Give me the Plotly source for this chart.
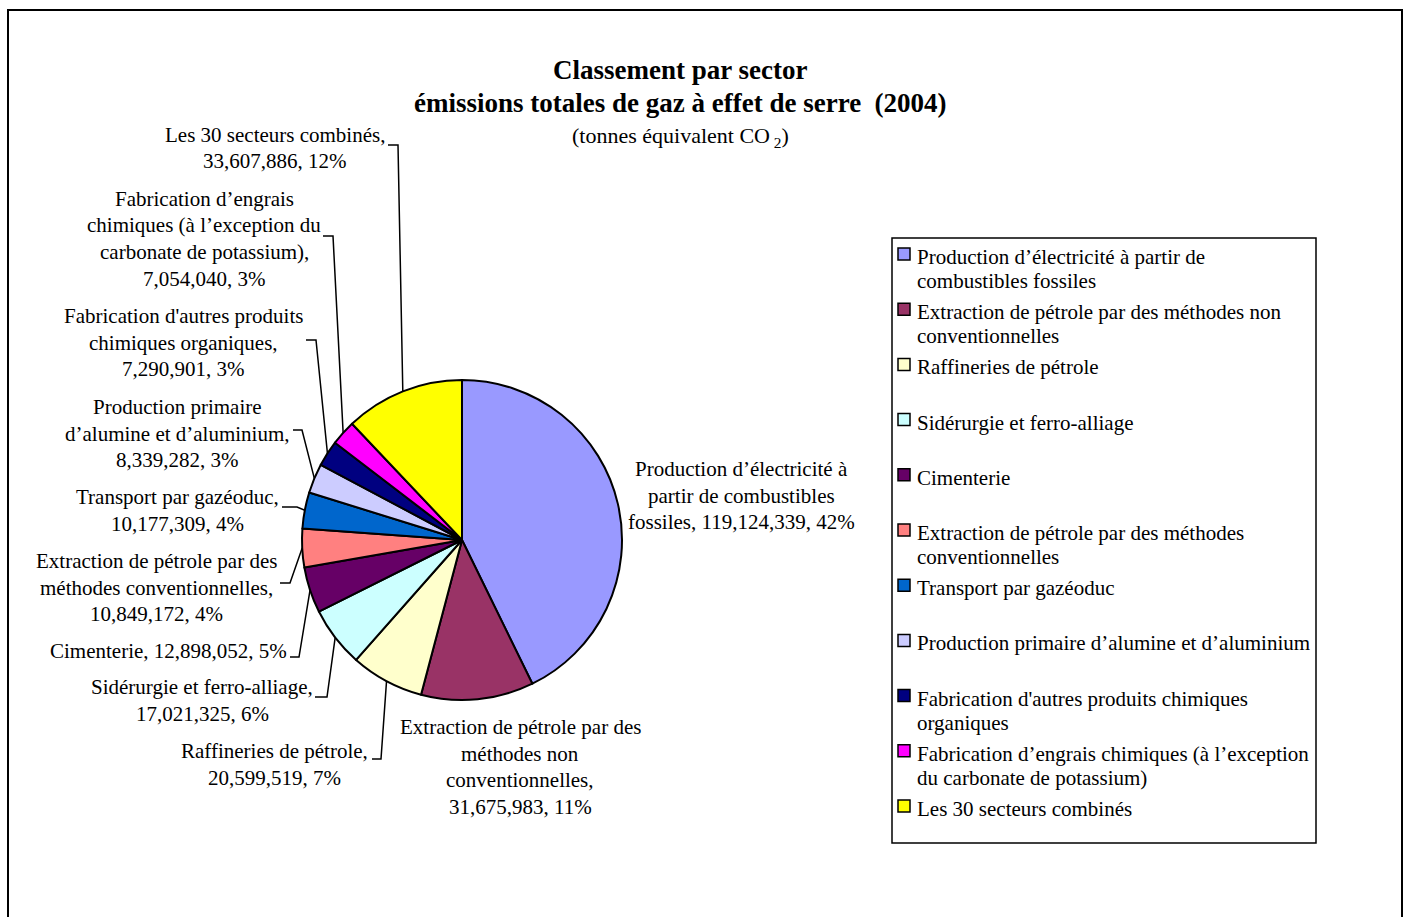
import math
import plotly.graph_objects as go

W, H = 1409, 917

# ---------------- data ----------------
sectors = [
    "Production d’électricité à partir de combustibles fossiles",
    "Extraction de pétrole par des méthodes non conventionnelles",
    "Raffineries de pétrole",
    "Sidérurgie et ferro-alliage",
    "Cimenterie",
    "Extraction de pétrole par des méthodes conventionnelles",
    "Transport par gazéoduc",
    "Production primaire d’alumine et d’aluminium",
    "Fabrication d'autres produits chimiques organiques",
    "Fabrication d’engrais chimiques (à l’exception du carbonate de potassium)",
    "Les 30 secteurs combinés",
]
values = [119124339, 31675983, 20599519, 17021325, 12898052, 10849172,
          10177309, 8339282, 7290901, 7054040, 33607886]
percents = [42, 11, 7, 6, 5, 4, 4, 3, 3, 3, 12]
colors = ["#9999FF", "#993366", "#FFFFCC", "#CCFFFF", "#660066", "#FF8080",
          "#0066CC", "#CCCCFF", "#000080", "#FF00FF", "#FFFF00"]

# data-label text (line-broken); {v} = value, {p} = percent
slice_label_lines = [
    ["Production d’électricité à", "partir de combustibles", "fossiles, {v}, {p}%"],
    ["Extraction de pétrole par des", "méthodes non", "conventionnelles,", "{v}, {p}%"],
    ["Raffineries de pétrole,", "{v}, {p}%"],
    ["Sidérurgie et ferro-alliage,", "{v}, {p}%"],
    ["Cimenterie, {v}, {p}%"],
    ["Extraction de pétrole par des", "méthodes conventionnelles,", "{v}, {p}%"],
    ["Transport par gazéoduc,", "{v}, {p}%"],
    ["Production primaire", "d’alumine et d’aluminium,", "{v}, {p}%"],
    ["Fabrication d'autres produits", "chimiques organiques,", "{v}, {p}%"],
    ["Fabrication d’engrais", "chimiques (à l’exception du", "carbonate de potassium),", "{v}, {p}%"],
    ["Les 30 secteurs combinés,", "{v}, {p}%"],
]
legend_lines = [
    ["Production d’électricité à partir de", "combustibles fossiles"],
    ["Extraction de pétrole par des méthodes non", "conventionnelles"],
    ["Raffineries de pétrole"],
    ["Sidérurgie et ferro-alliage"],
    ["Cimenterie"],
    ["Extraction de pétrole par des méthodes", "conventionnelles"],
    ["Transport par gazéoduc"],
    ["Production primaire d’alumine et d’aluminium"],
    ["Fabrication d'autres produits chimiques", "organiques"],
    ["Fabrication d’engrais chimiques (à l’exception", "du carbonate de potassium)"],
    ["Les 30 secteurs combinés"],
]

title_lines = ["Classement par sector", "émissions totales de gaz à effet de serre\u00a0 (2004)"]
subtitle = "(tonnes équivalent CO<sub>\u00a02</sub>)"

# ---------------- layout (pixel positions) ----------------
PIE_CX, PIE_CY, PIE_R = 462, 540, 160
label_pos = [(741, 469), (520, 727), (274.5, 751), (202, 687), (168, 651),
             (156, 561), (177.5, 497), (177, 407), (183, 316), (204, 199),
             (275, 135)]
label_dy = 26.5
# leader: (x_start, x_elbow, y)
leaders = [None, None, (372, 381, 759), (315, 327, 697), (290, 299, 657),
           (280, 290, 583), (282, 297, 507), (293, 302, 430), (306, 316, 340),
           (323, 333, 236), (388, 398, 145)]

FONT = "Liberation Serif, Times New Roman, serif"


def px(x):
    return x / W


def py(y):
    return 1 - y / H


fig = go.Figure()
fig.add_trace(go.Pie(
    labels=sectors, values=values, sort=False, direction="clockwise", rotation=0,
    marker=dict(colors=colors, line=dict(color="black", width=2)),
    textinfo="none", showlegend=False, hoverinfo="label+value+percent",
    domain=dict(x=[px(PIE_CX - PIE_R), px(PIE_CX + PIE_R)],
                y=[py(PIE_CY + PIE_R), py(PIE_CY - PIE_R)]),
))


def add_text_block(lines, x, y0, dy, size, anchor="center", bold=False):
    for k, t in enumerate(lines):
        fig.add_annotation(
            x=px(x), y=py(y0 + k * dy), xref="paper", yref="paper",
            text=f"<b>{t}</b>" if bold else t, showarrow=False,
            xanchor=anchor, yanchor="middle", align=anchor,
            font=dict(family=FONT, size=size, color="black"))


# outer frame
fig.add_shape(type="rect", xref="paper", yref="paper",
              x0=px(8), x1=px(1402), y0=-0.05, y1=py(10),
              line=dict(color="black", width=2), layer="below")

# title
add_text_block(title_lines, 680, 70, 33, 27, bold=True)
add_text_block([subtitle], 680, 137, 0, 22)

# data labels and leader lines
total = sum(values)
cum = 0.0
for i, v in enumerate(values):
    mid = (cum + v / 2) / total * 2 * math.pi
    cum += v
    lines = [s.format(v=f"{v:,}", p=percents[i]) for s in slice_label_lines[i]]
    cx, y0 = label_pos[i]
    add_text_block(lines, cx, y0, label_dy, 21)
    if leaders[i] is not None:
        xs, xe, yl = leaders[i]
        ex = PIE_CX + PIE_R * math.sin(mid)
        ey = PIE_CY - PIE_R * math.cos(mid)
        path = (f"M {px(xs)},{py(yl)} L {px(xe)},{py(yl)} L {px(ex)},{py(ey)}")
        fig.add_shape(type="path", xref="paper", yref="paper", path=path,
                      line=dict(color="black", width=1.5))

# legend box
LX0, LX1, LY0, LY1 = 892, 1316, 238, 843
fig.add_shape(type="rect", xref="paper", yref="paper",
              x0=px(LX0), x1=px(LX1), y0=py(LY1), y1=py(LY0),
              line=dict(color="black", width=1.5), fillcolor="white", layer="below")
item_dy = 55.2
for i, lines in enumerate(legend_lines):
    ys = 254 + i * item_dy
    fig.add_shape(type="rect", xref="paper", yref="paper",
                  x0=px(898), x1=px(910), y0=py(ys + 6), y1=py(ys - 6),
                  fillcolor=colors[i], line=dict(color="black", width=1.5))
    add_text_block(lines, 915, 257 + i * item_dy, 24, 21, anchor="left")

fig.update_layout(
    width=W, height=H, autosize=False,
    margin=dict(l=0, r=0, t=0, b=0, pad=0),
    paper_bgcolor="white", plot_bgcolor="white",
    showlegend=False,
    font=dict(family=FONT, color="black"),
)

fig.write_html("out.html", config={"displayModeBar": False},
               post_script="document.body.style.margin='0';document.body.style.overflow='hidden';")
